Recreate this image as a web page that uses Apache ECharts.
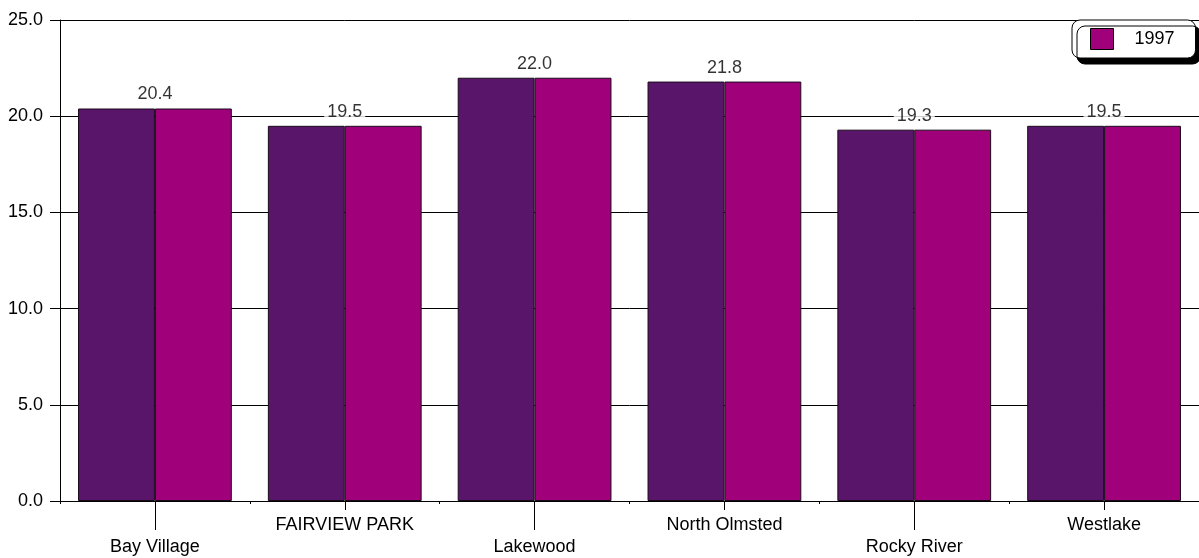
<!DOCTYPE html>
<html>
<head>
<meta charset="utf-8">
<script src="https://cdn.jsdelivr.net/npm/echarts@6/dist/echarts.min.js"></script>
<style>
  html, body { margin: 0; padding: 0; background: #fff; }
  #chart { width: 1199px; height: 558px; }
</style>
</head>
<body>
<div id="chart"></div>
<script>
// Cities on the x axis
const cities = ['Bay Village', 'FAIRVIEW PARK', 'Lakewood', 'North Olmsted', 'Rocky River', 'Westlake'];
// 1997 values per city
const values1997 = [20.4, 19.5, 22.0, 21.8, 19.3, 19.5];
// Y axis range and step
const yMin = 0;
const yMax = 25;
const yStep = 5;

const FONT = '"Liberation Sans", Arial, sans-serif';
const DARK = '#59156a';
const MAGENTA = '#a0007a';

const chart = echarts.init(document.getElementById('chart'), null, { renderer: 'canvas' });

// Hidden helper axes used only to draw the leader ticks under each bar
const helperAxis = (len, pick) => ({
  type: 'category',
  data: cities,
  position: 'bottom',
  gridIndex: 0,
  axisLine: { show: false },
  axisLabel: { show: false },
  splitLine: { show: false },
  axisTick: {
    show: true,
    alignWithLabel: true,
    length: len,
    interval: pick,
    lineStyle: { color: '#000', width: 1 }
  }
});

chart.setOption({
  animation: false,
  backgroundColor: '#fff',
  grid: { left: 60, right: 0, top: 20, bottom: 56, containLabel: false },
  legend: {
    data: ['1997'],
    left: 1072,
    top: 20,
    icon: 'rect',
    itemWidth: 23,
    itemHeight: 21,
    padding: [8, 21, 8, 18],
    backgroundColor: '#fff',
    borderColor: '#000',
    borderWidth: 1,
    borderRadius: 8,
    shadowColor: '#000',
    shadowBlur: 0,
    shadowOffsetX: 5,
    shadowOffsetY: 6,
    itemStyle: { borderColor: '#000', borderWidth: 1 },
    textStyle: { fontFamily: FONT, fontSize: 18, color: '#000', padding: [0, 0, 0, 16] }
  },
  xAxis: [
    {
      type: 'category',
      data: cities,
      axisLine: { show: true, lineStyle: { color: '#000', width: 1 } },
      axisTick: { show: true, length: 3, lineStyle: { color: '#000' } },
      axisLabel: {
        interval: 0,
        margin: 13,
        fontFamily: FONT,
        fontSize: 18,
        color: '#000',
        lineHeight: 22,
        formatter: (v, i) => (i % 2 === 0 ? '\n' + v : v)
      },
      splitLine: { show: false }
    },
    helperAxis(29, (i) => i % 2 === 0),
    helperAxis(9, (i) => i % 2 === 1)
  ],
  yAxis: {
    type: 'value',
    min: yMin,
    max: yMax,
    interval: yStep,
    axisLine: { show: true, lineStyle: { color: '#000', width: 1 } },
    axisTick: { show: true, length: 10, lineStyle: { color: '#000' } },
    axisLabel: {
      margin: 17,
      fontFamily: FONT,
      fontSize: 18,
      color: '#000',
      formatter: (v) => v.toFixed(1)
    },
    splitLine: { show: true, lineStyle: { color: '#000', width: 1 } }
  },
  series: [
    {
      name: '1997-shade',
      type: 'bar',
      data: values1997,
      barWidth: '40.5%',
      barGap: '0%',
      itemStyle: { color: DARK, borderColor: '#1a0a1a', borderWidth: 1 }
    },
    {
      name: '1997',
      type: 'bar',
      data: values1997,
      barWidth: '40.5%',
      itemStyle: { color: MAGENTA, borderColor: '#1a0a1a', borderWidth: 1 }
    },
    {
      name: 'labels',
      type: 'scatter',
      data: values1997,
      symbolSize: 0,
      silent: true,
      z: 5,
      label: {
        show: true,
        position: 'top',
        distance: 5,
        fontFamily: FONT,
        fontSize: 18,
        color: '#000',
        backgroundColor: '#fff',
        padding: [1, 3, 0, 3],
        formatter: (p) => p.value.toFixed(1)
      }
    }
  ]
});
</script>
</body>
</html>
